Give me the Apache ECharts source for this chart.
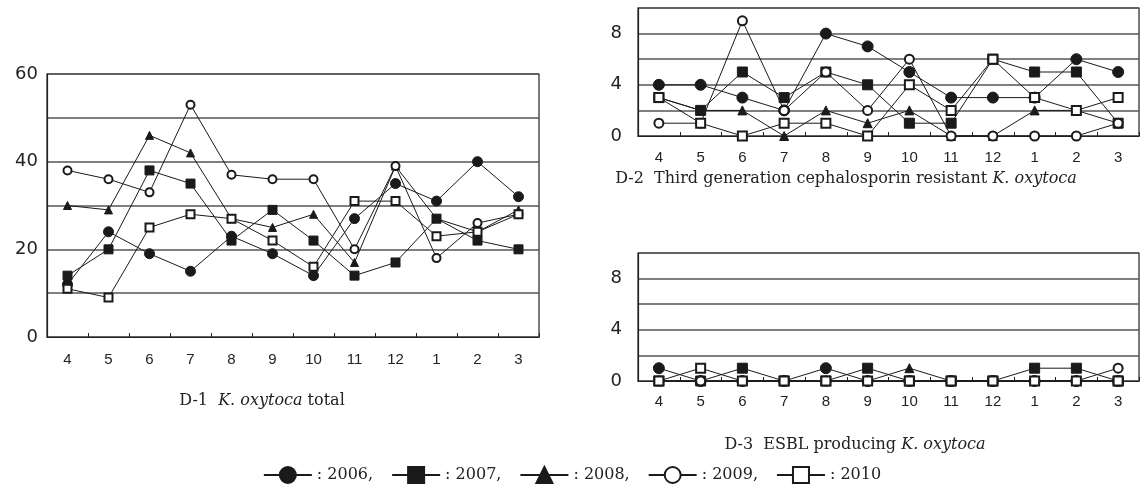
<!DOCTYPE html>
<html>
<head>
<meta charset="utf-8">
<script src="https://cdn.jsdelivr.net/npm/echarts@6/dist/echarts.min.js"></script>
<style>
    html, body { margin: 0; padding: 0; background: #fff; }
    #main { width: 1144px; height: 500px; }
</style>
</head>
<body>
<div id="main"></div>
<script>
/* ------------------------------------ 数据 ------------------------------------ */
let months = ['4', '5', '6', '7', '8', '9', '10', '11', '12', '1', '2', '3'];
let years = ['2006', '2007', '2008', '2009', '2010'];

// D-1 K. oxytoca total
let d1_2006 = [12, 24, 19, 15, 23, 19, 14, 27, 35, 31, 40, 32];
let d1_2007 = [14, 20, 38, 35, 22, 29, 22, 14, 17, 27, 22, 20];
let d1_2008 = [30, 29, 46, 42, 27, 25, 28, 17, 39, 27, 24, 29];
let d1_2009 = [38, 36, 33, 53, 37, 36, 36, 20, 39, 18, 26, 28];
let d1_2010 = [11, 9, 25, 28, 27, 22, 16, 31, 31, 23, 24, 28];

// D-2 Third generation cephalosporin resistant
let d2_2006 = [4, 4, 3, 2, 8, 7, 5, 3, 3, 3, 6, 5];
let d2_2007 = [3, 2, 5, 3, 5, 4, 1, 1, 6, 5, 5, 1];
let d2_2008 = [3, 2, 2, 0, 2, 1, 2, 0, 0, 2, 2, 1];
let d2_2009 = [1, 1, 9, 2, 5, 2, 6, 0, 0, 0, 0, 1];
let d2_2010 = [3, 1, 0, 1, 1, 0, 4, 2, 6, 3, 2, 3];

// D-3 ESBL producing
let d3_2006 = [1, 0, 0, 0, 1, 0, 0, 0, 0, 0, 0, 0];
let d3_2007 = [0, 0, 1, 0, 0, 1, 0, 0, 0, 1, 1, 0];
let d3_2008 = [0, 0, 0, 0, 0, 0, 1, 0, 0, 0, 0, 0];
let d3_2009 = [0, 0, 0, 0, 0, 0, 0, 0, 0, 0, 0, 1];
let d3_2010 = [0, 1, 0, 0, 0, 0, 0, 0, 0, 0, 0, 0];

// y 轴刻度
let d1Ticks = [0, 20, 40, 60];
let d2Ticks = [0, 4, 8];

/* ------------------------------------ 封装方法 ------------------------------------ */
let symbols = ['circle', 'rect', 'triangle', 'emptyCircle', 'emptyRect'];
let symbolSizes = [10, 9, 8, 8, 8];

let makeSeries = function (idx, list) {
    return list.map(function (data, i) {
        return {
            name: years[i],
            type: 'line',
            xAxisIndex: idx,
            yAxisIndex: idx,
            data: data,
            symbol: symbols[i],
            symbolSize: symbolSizes[i] + (idx === 0 ? 0 : 1),
            showAllSymbol: true,
            lineStyle: { color: '#1a1a1a', width: 1 },
            itemStyle: { color: '#1a1a1a', borderColor: '#1a1a1a', borderWidth: 1 },
            animation: false
        };
    });
};

let xAxisOf = function (idx, margin) {
    return {
        type: 'category',
        gridIndex: idx,
        data: months,
        boundaryGap: true,
        axisLine: { lineStyle: { color: '#222', width: 1.2 } },
        axisTick: { show: true, inside: true, length: 4, lineStyle: { color: '#222' } },
        axisLabel: { color: '#222', fontSize: 15, fontFamily: 'Liberation Sans', margin: margin }
    };
};

let yAxisOf = function (idx, max, interval, ticks, margin) {
    return {
        type: 'value',
        gridIndex: idx,
        min: 0,
        max: max,
        interval: interval,
        axisLine: { show: true, lineStyle: { color: '#222', width: 1.2 } },
        axisTick: { show: false },
        splitLine: { show: true, lineStyle: { color: '#555', width: 1.5 } },
        axisLabel: {
            color: '#222', fontSize: 18, fontFamily: 'DejaVu Sans', margin: margin,
            formatter: function (v) { return ticks.indexOf(v) >= 0 ? String(v) : ''; }
        }
    };
};

let titleOf = function (text, cx, top) {
    return {
        text: text,
        left: cx,
        top: top,
        textAlign: 'center',
        textStyle: {
            fontFamily: 'DejaVu Serif', fontSize: 16, fontWeight: 'normal', color: '#222',
            rich: {
                n: { fontFamily: 'DejaVu Serif', fontSize: 16, color: '#222' },
                i: { fontFamily: 'DejaVu Serif', fontSize: 16, fontStyle: 'italic', color: '#222' }
            }
        }
    };
};

/* ------------------------------------ 配置 ------------------------------------ */
let option = {
    backgroundColor: '#fff',
    animation: false,
    title: [
        titleOf('{n|D-1  }{i|K. oxytoca}{n| total}', 257, 388),
        titleOf('{n|D-2  Third generation cephalosporin resistant }{i|K. oxytoca}', 841, 166),
        titleOf('{n|D-3  ESBL producing }{i|K. oxytoca}', 850, 432)
    ],
    legend: {
        left: 'center',
        top: 461,
        itemWidth: 48,
        itemHeight: 20,
        itemGap: 18,
        data: years,
        formatter: function (name) { return ': ' + name + (name === '2010' ? '' : ','); },
        textStyle: { fontFamily: 'DejaVu Serif', fontSize: 16, color: '#222' }
    },
    grid: [
        { left: 47, top: 74, width: 492, height: 263, show: true, borderColor: '#222', borderWidth: 1.2 },
        { left: 638, top: 8, width: 501, height: 128, show: true, borderColor: '#222', borderWidth: 1.2 },
        { left: 638, top: 253, width: 501, height: 128, show: true, borderColor: '#222', borderWidth: 1.2 }
    ],
    xAxis: [xAxisOf(0, 15), xAxisOf(1, 14), xAxisOf(2, 13)],
    yAxis: [
        yAxisOf(0, 60, 10, d1Ticks, 9),
        yAxisOf(1, 10, 2, d2Ticks, 16),
        yAxisOf(2, 10, 2, d2Ticks, 16)
    ],
    series: [].concat(
        makeSeries(0, [d1_2006, d1_2007, d1_2008, d1_2009, d1_2010]),
        makeSeries(1, [d2_2006, d2_2007, d2_2008, d2_2009, d2_2010]),
        makeSeries(2, [d3_2006, d3_2007, d3_2008, d3_2009, d3_2010])
    )
};

let myChart = echarts.init(document.querySelector('#main'));
myChart.setOption(option);
</script>
</body>
</html>
